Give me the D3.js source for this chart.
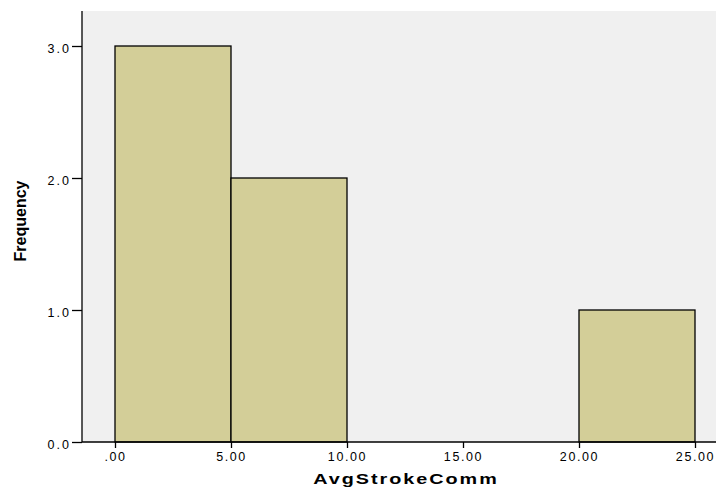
<!DOCTYPE html>
<html>
<head>
<meta charset="utf-8">
<script src="https://cdn.jsdelivr.net/npm/d3@7"></script>
<style>
  html, body { margin: 0; padding: 0; background: #ffffff; }
  svg { display: block; }
  text { font-family: "Liberation Sans", Arial, sans-serif; fill: #000; }
</style>
</head>
<body>
<svg id="chart" width="716" height="487"></svg>
<script>
// Histogram bins of AvgStrokeComm (bin start, bin end) and their frequencies
const binStarts = [0, 5, 20];
const binEnds = [5, 10, 25];
const frequencies = [3, 2, 1];
const xTicks = [0, 5, 10, 15, 20, 25];
const xTickLabels = [".00", "5.00", "10.00", "15.00", "20.00", "25.00"];
const yTicks = [0, 1, 2, 3];
const yTickLabels = ["0.0", "1.0", "2.0", "3.0"];

const svg = d3.select("#chart");
const plot = { left: 82, top: 11, right: 716, bottom: 442 };

const x = d3.scaleLinear().domain([0, 25]).range([115, 695]);
const y = d3.scaleLinear().domain([0, 3]).range([plot.bottom, 46]);

// Plot background
svg.append("rect")
  .attr("x", plot.left).attr("y", plot.top)
  .attr("width", plot.right - plot.left).attr("height", plot.bottom - plot.top)
  .attr("fill", "#f0f0f0");

// Bars
svg.append("g").selectAll("rect")
  .data(frequencies)
  .join("rect")
  .attr("x", (d, i) => x(binStarts[i]))
  .attr("y", d => y(d))
  .attr("width", (d, i) => x(binEnds[i]) - x(binStarts[i]))
  .attr("height", d => y(0) - y(d))
  .attr("fill", "#d3ce98")
  .attr("stroke", "#000")
  .attr("stroke-width", 1.3);

// X axis
const xAxis = d3.axisBottom(x)
  .tickValues(xTicks)
  .tickFormat((d, i) => xTickLabels[i])
  .tickSize(6)
  .tickPadding(4);
const gx = svg.append("g").attr("transform", `translate(0,${plot.bottom})`).call(xAxis);
gx.select(".domain").remove();
gx.append("line").attr("x1", plot.left).attr("x2", plot.right).attr("y1", 0).attr("y2", 0)
  .attr("stroke", "#000").attr("stroke-width", 1.3);
gx.selectAll(".tick line").attr("stroke", "#000").attr("stroke-width", 1.3);
gx.selectAll(".tick text")
  .style("font-family", "'Liberation Sans', Arial, sans-serif")
  .style("font-size", "12.5px").style("letter-spacing", "1.6px").attr("fill", "#000");

// Y axis
const yAxis = d3.axisLeft(y)
  .tickValues(yTicks)
  .tickFormat((d, i) => yTickLabels[i])
  .tickSize(10)
  .tickPadding(1);
const gy = svg.append("g").attr("transform", `translate(${plot.left},0)`).call(yAxis);
gy.select(".domain").remove();
gy.append("line").attr("x1", 0).attr("x2", 0).attr("y1", plot.top).attr("y2", plot.bottom)
  .attr("stroke", "#000").attr("stroke-width", 1.3);
gy.selectAll(".tick line").attr("stroke", "#000").attr("stroke-width", 1.3);
gy.selectAll(".tick text")
  .style("font-family", "'Liberation Sans', Arial, sans-serif")
  .style("font-size", "12.5px").style("letter-spacing", "2px").attr("fill", "#000")
  .attr("dy", "0.5em");

// Axis titles
svg.append("text")
  .attr("transform", "translate(406,484) scale(1.32,1)")
  .attr("text-anchor", "middle")
  .style("font-size", "15px").style("font-weight", "bold").style("letter-spacing", "1.5px")
  .text("AvgStrokeComm");

svg.append("text")
  .attr("transform", "translate(26,221) rotate(-90)")
  .attr("text-anchor", "middle")
  .style("font-family", "'Liberation Sans Narrow', 'Liberation Sans', Arial, sans-serif")
  .style("font-size", "16px").style("font-weight", "bold")
  .text("Frequency");
</script>
</body>
</html>
